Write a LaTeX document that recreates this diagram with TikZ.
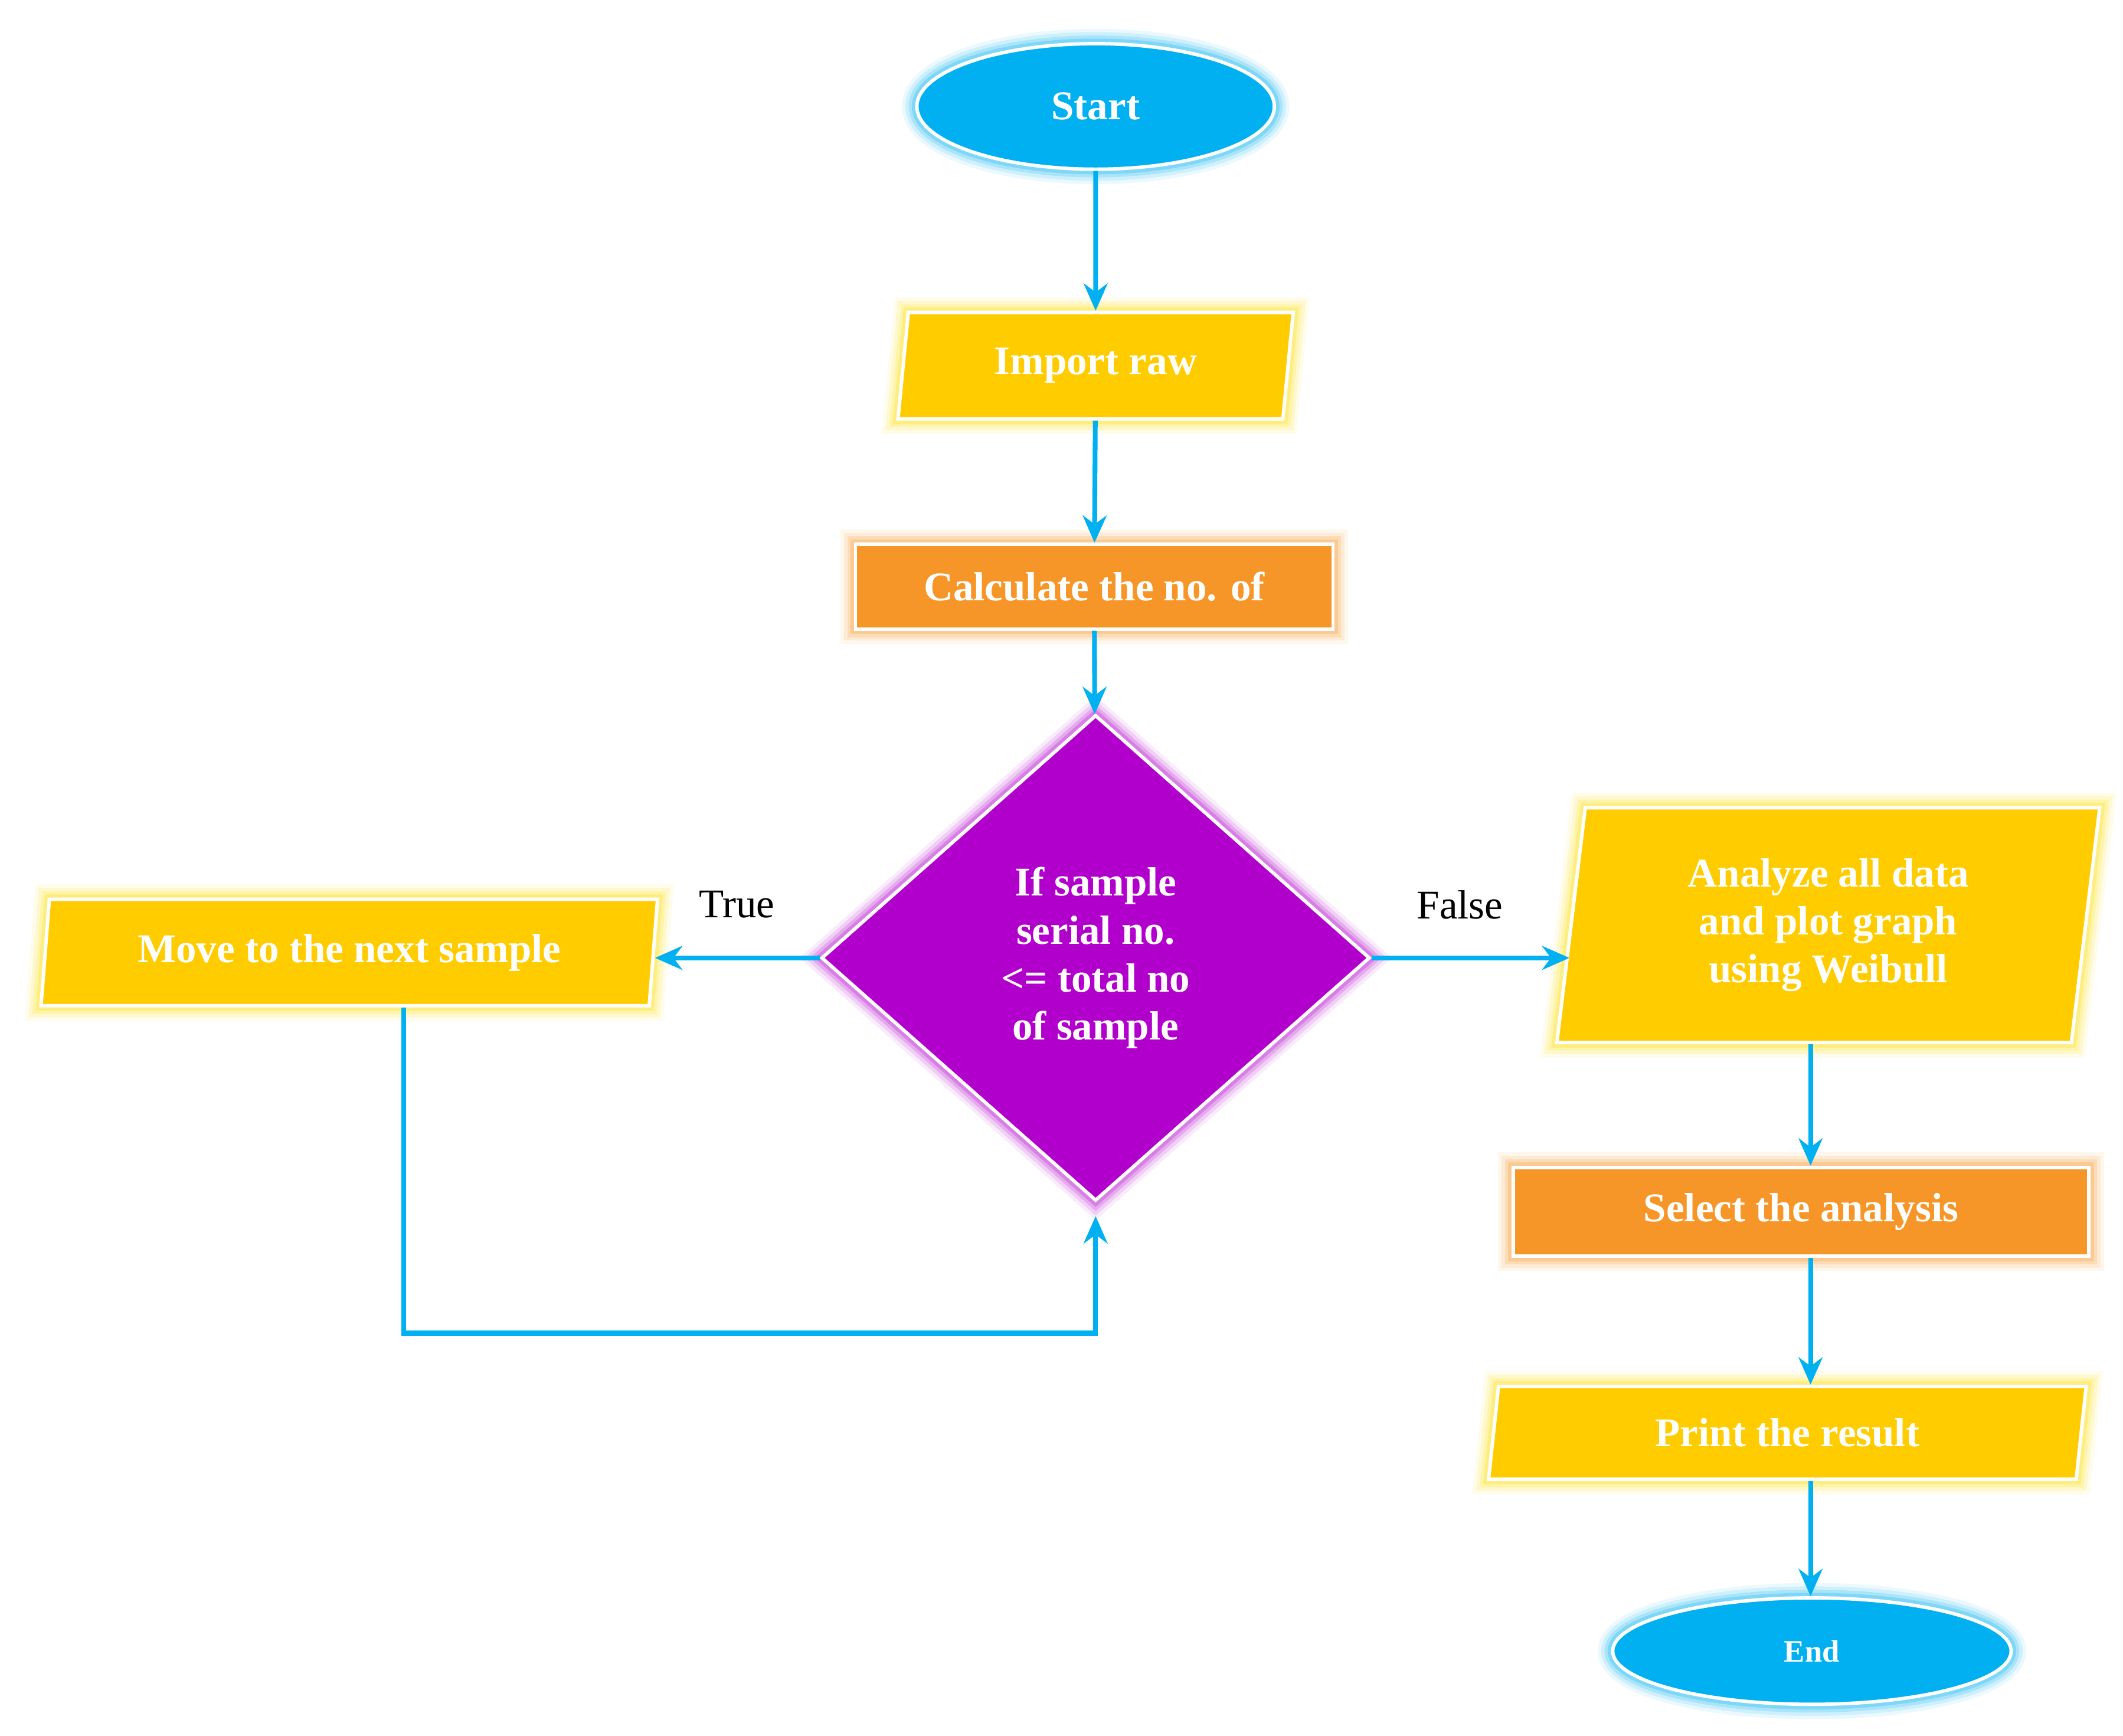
\documentclass[tikz,border=0pt]{standalone}
\usepackage{fontspec}
\setmainfont{Liberation Serif}
\usetikzlibrary{shapes.geometric,arrows.meta}
\definecolor{cblue}{RGB}{0,176,240}
\definecolor{cyel}{RGB}{255,204,0}
\definecolor{corg}{RGB}{247,150,40}
\definecolor{cpur}{RGB}{178,0,204}
\begin{document}
\begin{tikzpicture}[x=0.2mm,y=-0.2mm,
  txt/.style={text=white,font=\fontsize{17}{20}\selectfont\bfseries,align=center},
  glow/.style={preaction={draw=#1,line width=4.4mm,opacity=.08},preaction={draw=#1,line width=3.4mm,opacity=.12},preaction={draw=#1,line width=2.4mm,opacity=.18},preaction={draw=#1,line width=1.5mm,opacity=.25},draw=white,line width=0.5mm},
  term/.style={ellipse,fill=cblue,glow=cblue,txt,inner sep=0pt},
  io/.style={trapezium,trapezium left angle=81,trapezium right angle=99,trapezium stretches=true,fill=cyel,glow=yellow!80!orange,txt,inner sep=0pt},
  proc/.style={rectangle,fill=corg,glow=corg,txt,inner sep=0pt},
  arr/.style={draw=cblue,line width=0.7mm,-{Stealth[length=4mm,width=3.5mm]}},
  lab/.style={font=\fontsize{17}{20}\selectfont}]
\useasboundingbox (0,0) rectangle (1556,1272);
\node[term,minimum width=262*0.2mm,minimum height=92*0.2mm] (start) at (803,78) {Start};
\node[io,minimum width=290*0.2mm,minimum height=78*0.2mm] (imp) at (803,268) {Import raw};
\node[proc,minimum width=350*0.2mm,minimum height=62*0.2mm] (calc) at (802,430) {Calculate the no. of};
\node[diamond,fill=cpur,glow=cpur,txt,minimum width=402*0.2mm,minimum height=356*0.2mm,inner sep=0pt,aspect=1.13] (dia) at (803,702) {If sample\\serial no.\\<= total no\\of sample};
\node[io,minimum width=452*0.2mm,minimum height=78*0.2mm] (move) at (256,698) {Move to the next sample};
\node[io,trapezium left angle=83,trapezium right angle=97,minimum width=398*0.2mm,minimum height=172*0.2mm] (ana) at (1340,678) {Analyze all data\\and plot graph\\using Weibull};
\node[proc,minimum width=422*0.2mm,minimum height=65*0.2mm] (sel) at (1320,888) {Select the analysis};
\node[io,minimum width=438*0.2mm,minimum height=68*0.2mm] (prt) at (1310,1050) {Print the result};
\node[term,minimum width=292*0.2mm,minimum height=78*0.2mm,font=\fontsize{13}{15}\selectfont\bfseries] (end) at (1328,1210) {End};
\coordinate (lx) at (296,977);
\draw[arr] (start) -- (imp);
\draw[arr] (imp) -- (calc);
\draw[arr] (calc) -- (dia);
\draw[arr] (dia.west) -- (move.east |- dia.west);
\draw[arr] (dia.east) -- (ana.west |- dia.east);
\draw[arr,shorten >=2mm] (move.south -| lx) -- (lx) -| (dia.south);
\draw[arr] (ana.south -| 1327,0) -- (sel.north -| 1327,0);
\draw[arr] (sel.south -| 1327,0) -- (prt.north -| 1327,0);
\draw[arr] (prt.south -| 1327,0) -- (end.north -| 1327,0);
\node[lab] (t) at (540,663) {True};
\node[lab] (f) at (1070,663) {False};
\end{tikzpicture}
\end{document}
